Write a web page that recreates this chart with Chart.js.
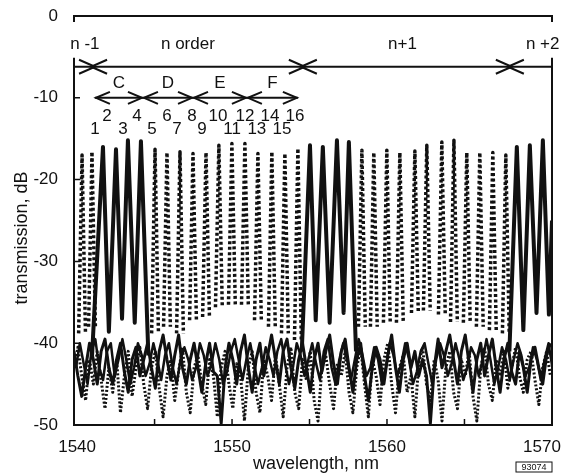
<!DOCTYPE html>
<html>
<head>
<meta charset="utf-8">
<script src="https://cdn.jsdelivr.net/npm/chart.js@4/dist/chart.umd.min.js"></script>
<style>
  html, body { margin: 0; padding: 0; background: #fff; }
  #wrap { width: 563px; height: 473px; }
</style>
</head>
<body>
<div id="wrap"><canvas id="chart" width="563" height="473"></canvas></div>
<script>
// Axis ticks
const xTicks = [1540, 1550, 1560, 1570];
const yTicks = [0, -10, -20, -30, -40, -50];
const xMinorTicks = [1545, 1550, 1555, 1560, 1565];

// Solid channels (1-4 of each order), null breaks the line between orders
const solidNm = [1540.95, 1541.67, 1542.05, 1542.51, 1542.9, 1543.28, 1543.72, 1544.12, 1544.6, 1550,
	1554.5, 1555.03, 1555.4, 1555.86, 1556.3, 1556.77, 1557.2, 1557.54, 1558.0, 1563,
	1567.9, 1568.38, 1568.8, 1569.22, 1569.65, 1570.06, 1570.45, 1570.65];
const solidDb = [-42, -16.0, -38.6, -16.3, -37.0, -15.2, -37.5, -15.3, -41.5, null,
	-41, -15.8, -37.2, -16.0, -37.5, -15.2, -36.3, -15.4, -41, null,
	-41, -16.0, -38.4, -15.8, -36.3, -15.2, -36.5, -25];

// Dotted channels (5-16): peak wavelength, peak level, level at the foot of the peak
const dotPeakNm = [1540.32, 1540.96,
	1545.03, 1545.8, 1546.64, 1547.48, 1548.32, 1549.15, 1549.99, 1550.83, 1551.67, 1552.57, 1553.41, 1554.25,
	1558.38, 1559.15, 1559.99, 1560.83, 1561.8, 1562.57, 1563.54, 1564.32, 1565.15, 1565.99, 1566.83, 1567.67];
const dotPeakDb = [-17.0, -16.6,
	-16.3, -16.7, -16.6, -16.8, -16.7, -15.8, -15.6, -15.6, -16.8, -16.6, -16.8, -16.2,
	-16.4, -16.7, -16.4, -16.7, -16.5, -15.8, -15.4, -15.2, -16.7, -16.7, -16.7, -17.0];
const dotFootDb = [-38.8, -38.0,
	-38.8, -38.0, -38.8, -37.2, -36.8, -35.6, -35.3, -35.3, -37.2, -38.0, -38.8, -39.6,
	-38.0, -38.0, -37.5, -37.5, -36.3, -36.0, -36.5, -37.4, -37.5, -38.0, -38.4, -38.8];
const dotHalfWidth = 0.22;

// Crosstalk floor, sampled every 0.25 nm
const floorStep = 0.25;
const floorStart = 1539.8;
const floorSolidDb = [
	-41, -44, -46.5, -43, -40, -42, -45, -41, -39.5, -43,
	-45, -42, -40, -43.5, -46, -42, -40.5, -44, -42, -40,
	-43, -45.5, -41, -39, -42, -44.5, -41.5, -39, -43, -45,
	-42, -40, -43, -46, -42.5, -40, -43.5, -44, -49.8, -43,
	-40, -42, -45, -41, -39, -43, -46, -42, -40, -44,
	-41.5, -39, -42, -45, -41, -39.5, -43, -45.5, -42, -40,
	-43, -46, -42, -40, -43.5, -41, -39, -42.5, -45, -41,
	-39.5, -43, -46, -42, -40, -44, -47, -43, -40.5, -42,
	-45, -41.5, -39, -43, -46, -42, -40, -43, -41, -44,
	-42, -44, -49.8, -43, -39.5, -43, -41, -39, -42, -45,
	-41, -39, -42.5, -46, -42, -40, -44, -41.5, -39.5, -43,
	-46, -42, -40, -43.5, -45, -41, -43, -46, -42, -40.5,
	-43, -45, -41.5, -40];
const floorSolid2Start = 1539.925;
const floorSolid2Db = [
	-43, -40, -42.5, -45, -41, -39.5, -43, -44.5, -41, -40,
	-44, -42, -39.5, -42, -45, -43, -40, -41.5, -44, -42.5,
	-40, -42, -44.5, -41.5, -40, -43, -45, -42, -40.5, -42,
	-44.5, -43, -40, -41.5, -44, -42.5, -40, -42, -45, -43.5,
	-41, -39.5, -42, -44.5, -42, -40, -42.5, -45, -43, -40.5,
	-42, -44, -41, -39.5, -42.5, -45, -43, -40, -41.5, -44,
	-42, -40, -42.5, -44.5, -41, -39.5, -43, -45, -42, -40,
	-42, -44.5, -42, -39.5, -41.5, -44, -43, -40.5, -42, -45,
	-43, -40, -41.5, -44, -42.5, -40, -42, -45, -43.5, -41,
	-40, -42.5, -45, -42, -40, -41.5, -44, -42.5, -40, -42,
	-44.5, -43, -40.5, -41.5, -44, -42, -39.5, -42, -45, -43,
	-40.5, -42, -44.5, -42, -40, -41.5, -44, -43, -40.5, -42,
	-44.5, -42, -40, -43];
const floorDottedDb = [
	-43, -40.5, -44, -47, -42, -45, -41, -44.5, -48, -43,
	-46, -42, -48.5, -44, -41, -46.5, -43, -40.5, -45, -48,
	-43, -41, -45.5, -49, -44, -42, -47, -43.5, -40.5, -46,
	-48.5, -43, -41.5, -45, -47.5, -42, -44, -49, -43, -41,
	-45, -48, -42.5, -44, -49.5, -43, -41, -46, -48.5, -42,
	-44, -47, -41.5, -45, -49, -43, -40.5, -46, -48, -42,
	-44.5, -41, -47, -49.5, -43, -41.5, -45, -48, -42.5, -44,
	-41, -46, -48.5, -43, -40.5, -45, -49, -42, -44, -47.5,
	-42, -40, -45, -48.5, -43, -41.5, -46, -44, -49, -42.5,
	-40.5, -45, -47, -42, -44.5, -49.5, -43, -41, -46, -48,
	-42, -44, -41, -46.5, -49.5, -43, -40.5, -45, -47, -42,
	-44, -41, -45.5, -43, -40.5, -44, -46, -42, -41, -44.5,
	-47.5, -43, -41, -44];

// Annotations
const orderLabels = ['n -1', 'n order', 'n+1', 'n +2'];
const orderLabelNm = [1540.5, 1547.15, 1561.0, 1570.05];
const orderBoundNm = [1541.03, 1554.57, 1567.93];
const orderLabelDb = -3.5;
const orderLineDb = -6.2;
const groupLabels = ['C', 'D', 'E', 'F'];
const groupEdgeNm = [1541.15, 1544.25, 1547.48, 1550.96, 1554.25];
const groupLabelDb = -8.2;
const groupLineDb = -10;
const channelLabels = ['1', '2', '3', '4', '5', '6', '7', '8', '9', '10', '11', '12', '13', '14', '15', '16'];
const channelLabelNm = [1541.15, 1541.93, 1542.96, 1543.86, 1544.83, 1545.8, 1546.45, 1547.41,
	1548.06, 1549.09, 1550.0, 1550.83, 1551.6, 1552.45, 1553.22, 1554.06];
const channelLabelDb = [-13.9, -12.3, -13.9, -12.3, -13.9, -12.3, -13.9, -12.3,
	-13.9, -12.3, -13.9, -12.3, -13.9, -12.3, -13.9, -12.3];

const INK = '#111';
const FONT = '"Liberation Sans", Arial, sans-serif';

// Build datasets
function floorPoints(values, start) {
	return values.map((y, i) => ({ x: start + i * floorStep, y }));
}

const solidPoints = solidNm.map((x, i) => ({ x, y: solidDb[i] }));

const dottedPoints = [];
dotPeakNm.forEach((pk, i) => {
	dottedPoints.push({ x: pk - dotHalfWidth, y: dotFootDb[i] });
	dottedPoints.push({ x: pk, y: dotPeakDb[i] });
	dottedPoints.push({ x: pk + dotHalfWidth, y: dotFootDb[i] });
	dottedPoints.push({ x: pk + dotHalfWidth, y: null });
});

// Frame, arrows and labels
function arrowHead(ctx, tipX, y, dir, len, spread) {
	ctx.beginPath();
	ctx.moveTo(tipX - dir * len, y - spread);
	ctx.lineTo(tipX, y);
	ctx.lineTo(tipX - dir * len, y + spread);
	ctx.stroke();
}

function noEdgePadding(scale) {
	scale.paddingLeft = 0;
	scale.paddingRight = 0;
	scale.paddingTop = 0;
	scale.paddingBottom = 0;
}

const decorPlugin = {
	id: 'decor',
	beforeDraw(chart) {
		const { ctx } = chart;
		ctx.save();
		ctx.fillStyle = '#fff';
		ctx.fillRect(0, 0, chart.width, chart.height);
		ctx.restore();
	},
	afterDraw(chart) {
		const { ctx, chartArea: a } = chart;
		const xs = chart.scales.x;
		const ys = chart.scales.y;
		ctx.save();
		ctx.strokeStyle = INK;
		ctx.fillStyle = INK;
		ctx.lineCap = 'butt';

		// frame with gaps on the sides near the order labels
		const gapEnd = ys.getPixelForValue(-5.1);
		ctx.lineWidth = 2;
		ctx.beginPath();
		ctx.moveTo(a.left, a.top + 6);
		ctx.lineTo(a.left, a.top);
		ctx.lineTo(a.right, a.top);
		ctx.lineTo(a.right, a.top + 6);
		ctx.moveTo(a.left, gapEnd);
		ctx.lineTo(a.left, a.bottom);
		ctx.lineTo(a.right, a.bottom);
		ctx.lineTo(a.right, gapEnd);
		ctx.stroke();

		// inner ticks
		ctx.lineWidth = 1.5;
		ctx.beginPath();
		yTicks.slice(1, -1).forEach((v) => {
			const y = ys.getPixelForValue(v);
			ctx.moveTo(a.left, y);
			ctx.lineTo(a.left + 6, y);
		});
		xMinorTicks.forEach((v) => {
			const x = xs.getPixelForValue(v);
			ctx.moveTo(x, a.bottom);
			ctx.lineTo(x, a.bottom - 6);
		});
		ctx.stroke();

		// diffraction order line
		ctx.lineWidth = 2;
		const oy = ys.getPixelForValue(orderLineDb);
		ctx.beginPath();
		ctx.moveTo(a.left, oy);
		ctx.lineTo(a.right, oy);
		ctx.stroke();
		orderBoundNm.forEach((nm) => {
			const bx = xs.getPixelForValue(nm);
			arrowHead(ctx, bx + 2, oy, 1, 16, 7);
			arrowHead(ctx, bx - 2, oy, -1, 16, 7);
		});

		// channel group line
		const gy = ys.getPixelForValue(groupLineDb);
		const gx = groupEdgeNm.map((nm) => xs.getPixelForValue(nm));
		ctx.beginPath();
		ctx.moveTo(gx[0], gy);
		ctx.lineTo(gx[gx.length - 1], gy);
		ctx.stroke();
		gx.forEach((x, i) => {
			if (i > 0) arrowHead(ctx, x - 1, gy, 1, 14, 6);
			if (i < gx.length - 1) arrowHead(ctx, x + 1, gy, -1, 14, 6);
		});

		// text
		ctx.textAlign = 'center';
		ctx.textBaseline = 'middle';
		ctx.font = `17px ${FONT}`;
		orderLabels.forEach((t, i) => {
			ctx.fillText(t, xs.getPixelForValue(orderLabelNm[i]), ys.getPixelForValue(orderLabelDb));
		});
		groupLabels.forEach((t, i) => {
			const mid = (groupEdgeNm[i] + groupEdgeNm[i + 1]) / 2;
			ctx.fillText(t, xs.getPixelForValue(mid), ys.getPixelForValue(groupLabelDb));
		});
		channelLabels.forEach((t, i) => {
			ctx.fillText(t, xs.getPixelForValue(channelLabelNm[i]), ys.getPixelForValue(channelLabelDb[i]));
		});

		// axis titles
		ctx.font = `18px ${FONT}`;
		ctx.fillText('wavelength, nm', 316, 464);
		ctx.save();
		ctx.translate(22, 238);
		ctx.rotate(-Math.PI / 2);
		ctx.fillText('transmission, dB', 0, 0);
		ctx.restore();

		// figure code
		ctx.font = `9px ${FONT}`;
		ctx.lineWidth = 1;
		ctx.strokeRect(516, 462, 36, 10);
		ctx.fillText('93074', 534, 467.5);

		ctx.restore();
	},
};

const lineStyle = { borderColor: INK, borderJoinStyle: 'round', tension: 0 };

new Chart(document.getElementById('chart'), {
	type: 'line',
	data: {
		datasets: [
			{ ...lineStyle, label: 'floor dotted', data: floorPoints(floorDottedDb, floorStart), borderWidth: 3, borderDash: [2, 2] },
			{ ...lineStyle, label: 'floor solid', data: floorPoints(floorSolidDb, floorStart), borderWidth: 3 },
			{ ...lineStyle, label: 'floor solid 2', data: floorPoints(floorSolid2Db, floorSolid2Start), borderWidth: 2.5 },
			{ ...lineStyle, label: 'channels 5-16', data: dottedPoints, borderWidth: 3.5, borderDash: [3, 2.5] },
			{ ...lineStyle, label: 'channels 1-4', data: solidPoints, borderWidth: 4 },
		],
	},
	options: {
		responsive: false,
		animation: false,
		devicePixelRatio: 1,
		layout: { padding: { top: 16, right: 11, left: 0, bottom: 0 } },
		elements: { point: { radius: 0 } },
		plugins: { legend: { display: false }, tooltip: { enabled: false } },
		scales: {
			x: {
				type: 'linear',
				min: 1539.8,
				max: 1570.65,
				grid: { display: false },
				border: { display: false },
				afterBuildTicks: (scale) => { scale.ticks = xTicks.map((value) => ({ value })); },
				afterFit: (scale) => { scale.height = 48; noEdgePadding(scale); },
				ticks: { color: INK, font: { family: FONT, size: 17 }, padding: 4, maxRotation: 0, callback: (v) => String(v) },
			},
			y: {
				min: -50,
				max: 0,
				grid: { display: false },
				border: { display: false },
				afterBuildTicks: (scale) => { scale.ticks = yTicks.map((value) => ({ value })); },
				afterFit: (scale) => { scale.width = 74; noEdgePadding(scale); },
				ticks: { color: INK, font: { family: FONT, size: 17 }, padding: 8, callback: (v) => String(v) },
			},
		},
	},
	plugins: [decorPlugin],
});
</script>
</body>
</html>
